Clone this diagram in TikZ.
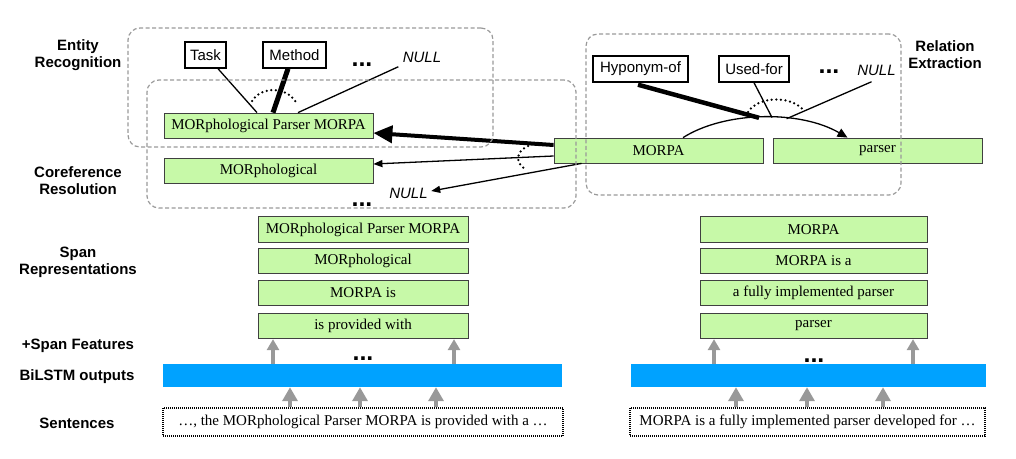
\documentclass[tikz,border=0pt]{standalone}
\usepackage{fontspec}
\setmainfont{Liberation Serif}
\setsansfont{Liberation Sans}
\usetikzlibrary{arrows.meta}
\definecolor{grn}{RGB}{199,249,168}
\definecolor{blu}{RGB}{0,162,255}
\tikzset{
 gbox/.style={draw=black!75, fill=grn, line width=0.8pt, minimum height=25pt, inner sep=0pt, font=\fontsize{15}{17}\selectfont},
 lbox/.style={draw=black, line width=1.4pt, fill=white, minimum height=26pt, inner sep=0pt, font=\sffamily\fontsize{15}{17}\selectfont},
 lab/.style={font=\sffamily\bfseries\fontsize{15}{17}\selectfont, align=center},
 nul/.style={font=\sffamily\itshape\fontsize{15}{17}\selectfont},
 dotsx/.style={font=\sffamily\bfseries\fontsize{25}{25}\selectfont, anchor=base, inner sep=0pt},
 grp/.style={draw=black!40, dash pattern=on 4pt off 2.5pt, line width=1.2pt, rounded corners=12pt, inner sep=0pt},
 bar/.style={fill=blu, inner sep=0pt, minimum height=23pt},
 sent/.style={draw=black, dash pattern=on 1pt off 1pt, line width=1.2pt, minimum height=28pt, inner sep=0pt, font=\fontsize{15}{17}\selectfont},
 uparr/.style={draw=black!40, line width=3.2pt, -{Triangle[width=12pt,length=11pt]}},
 upbig/.style={draw=black!40, line width=4pt, -{Triangle[width=15pt,length=14pt]}},
 thinl/.style={line width=1.3pt},
 dotl/.style={line width=2.5pt, line cap=round, dash pattern=on 0pt off 4.6pt},
 smalltip/.style={-{Triangle[width=7pt,length=9pt]}}
}
\begin{document}
\begin{tikzpicture}[x=1pt,y=-1pt]
\useasboundingbox (0,0) rectangle (1016,458);

% left labels
\node[lab] (lER) at (78,55) {Entity\\Recognition};
\node[lab] (lCR) at (78,180.5) {Coreference\\Resolution};
\node[lab] (lSR) at (78,262.5) {Span\\Representations};
\node[lab] (lSF) at (78,346) {+Span Features};
\node[lab] (lBL) at (77,377) {BiLSTM outputs};
\node[lab] (lSE) at (77,423) {Sentences};
\node[lab] (lRE) at (945,55) {Relation\\Extraction};

% upper green boxes
\node[gbox, minimum width=209pt] (mpm) at (268.5,125.5) {MORphological Parser MORPA};
\node[gbox, minimum width=209pt] (morph) at (268.5,170.5) {MORphological};
\node[gbox, minimum width=209pt] (morpa) at (658.5,150.5) {MORPA};
\node[gbox, minimum width=209pt] (parser) at (877.5,150.5) {parser};

% label boxes
\node[lbox, minimum width=41pt] (task) at (205.5,55) {Task};
\node[lbox, minimum width=63pt] (method) at (294.5,55) {Method};
\node[lbox, minimum width=95pt] (hyp) at (640.5,69) {Hyponym-of};
\node[lbox, minimum width=70pt] (usedfor) at (754,69) {Used-for};

\node[nul] (null1) at (422,57) {NULL};
\node[nul] (null2) at (408.5,193) {NULL};
\node[nul] (null3) at (876.5,70) {NULL};

\node[dotsx] (d1) at (362,66) {...};
\node[dotsx] (d2) at (362,206) {...};
\node[dotsx] (d3) at (829,73) {...};
\node[dotsx] (d4) at (363,360) {...};
\node[dotsx] (d5) at (814,362) {...};

% span representations
\node[gbox, minimum width=210pt, minimum height=25.5pt] (sL1) at (363,229.5) {MORphological Parser MORPA};
\node[gbox, minimum width=210pt, minimum height=25.5pt] (sL2) at (363,261) {MORphological};
\node[gbox, minimum width=210pt, minimum height=25.5pt] (sL3) at (363,293) {MORPA is};
\node[gbox, minimum width=210pt, minimum height=25.5pt] (sL4) at (363,326) {is provided with};
\node[gbox, minimum width=227pt, minimum height=25.5pt] (sR1) at (813.5,229.5) {MORPA};
\node[gbox, minimum width=227pt, minimum height=25.5pt] (sR2) at (813.5,261) {MORPA is a};
\node[gbox, minimum width=227pt, minimum height=25.5pt] (sR3) at (813.5,293) {a fully implemented parser};
\node[gbox, minimum width=227pt, minimum height=25.5pt] (sR4) at (813.5,326) {parser};

% BiLSTM bars
\node[bar, minimum width=399pt] (barL) at (362.5,375.5) {};
\node[bar, minimum width=355pt] (barR) at (808.5,375.5) {};

% sentences
\node[sent, minimum width=400pt] (sentL) at (363,422) {…, the MORphological Parser MORPA is provided with a …};
\node[sent, minimum width=355pt] (sentR) at (807.5,422) {MORPA is a fully implemented parser developed for …};

% up arrows bar -> spans
\draw[uparr] ([xshift=-90pt]sL4.south |- barL.north) -- ([xshift=-90pt]sL4.south);
\draw[uparr] ([xshift=91pt]sL4.south |- barL.north) -- ([xshift=91pt]sL4.south);
\draw[uparr] ([xshift=-99.5pt]sR4.south |- barR.north) -- ([xshift=-99.5pt]sR4.south);
\draw[uparr] ([xshift=99.5pt]sR4.south |- barR.north) -- ([xshift=99.5pt]sR4.south);

% up arrows sentence -> bar
\draw[upbig] ([xshift=-73pt]sentL.north) -- ([xshift=-73pt]sentL.north |- barL.south);
\draw[upbig] ([xshift=-3pt]sentL.north) -- ([xshift=-3pt]sentL.north |- barL.south);
\draw[upbig] ([xshift=73pt]sentL.north) -- ([xshift=73pt]sentL.north |- barL.south);
\draw[upbig] ([xshift=-71.5pt]sentR.north) -- ([xshift=-71.5pt]sentR.north |- barR.south);
\draw[upbig] ([xshift=-0.5pt]sentR.north) -- ([xshift=-0.5pt]sentR.north |- barR.south);
\draw[upbig] ([xshift=75.5pt]sentR.north) -- ([xshift=75.5pt]sentR.north |- barR.south);

% entity recognition connectors
\draw[thinl] ([xshift=12.5pt]task.south) -- ([xshift=-11.5pt]mpm.north);
\draw[line width=5pt] ([xshift=-6.5pt]method.south) -- ([xshift=4.5pt]mpm.north);
\draw[thinl] ([xshift=-1pt,yshift=-1pt]null1.south west) -- ([xshift=29.5pt]mpm.north);
\draw[dotl] (252,101) .. controls (261,86) and (288,86) .. (297,104);

% relation extraction
\coordinate (h1) at (759,117.8);
\coordinate (h2) at (772,117.5);
\coordinate (h3) at (786.6,118.7);
\draw[thinl, -{Triangle[width=9pt,length=10pt]}] ([xshift=24.5pt]morpa.north) .. controls (725,111) and (800,110) .. ([xshift=-30pt]parser.north);
\draw[line width=4.5pt] ([xshift=-2.5pt,yshift=-2pt]hyp.south) -- (h1);
\draw[thinl] (usedfor.south) -- (h2);
\draw[thinl] ([xshift=-5pt,yshift=-3pt]null3.south) -- (h3);
\draw[dotl] (748,112) .. controls (758,96) and (792,95) .. (804,111);

% coreference
\draw[line width=4pt, -{Triangle[width=17pt,length=19pt]}] ([yshift=5.5pt]morpa.west) -- ([yshift=-7.5pt]mpm.east);
\draw[thinl, smalltip] ([yshift=-5.5pt]morpa.west) -- ([yshift=6.5pt]morph.east);
\draw[thinl, smalltip] ([xshift=28pt]morpa.south west) -- ([yshift=2pt]null2.east);
\draw[dotl] (528,146) .. controls (515,152) and (515,164) .. (527,170);

% group frames
\node[grp, minimum width=365pt, minimum height=119pt] (erg) at (310.5,87.5) {};
\node[grp, minimum width=429pt, minimum height=128pt] (crg) at (361.5,144) {};
\node[grp, minimum width=315pt, minimum height=161pt] (reg) at (743.5,114.5) {};
\end{tikzpicture}
\end{document}
